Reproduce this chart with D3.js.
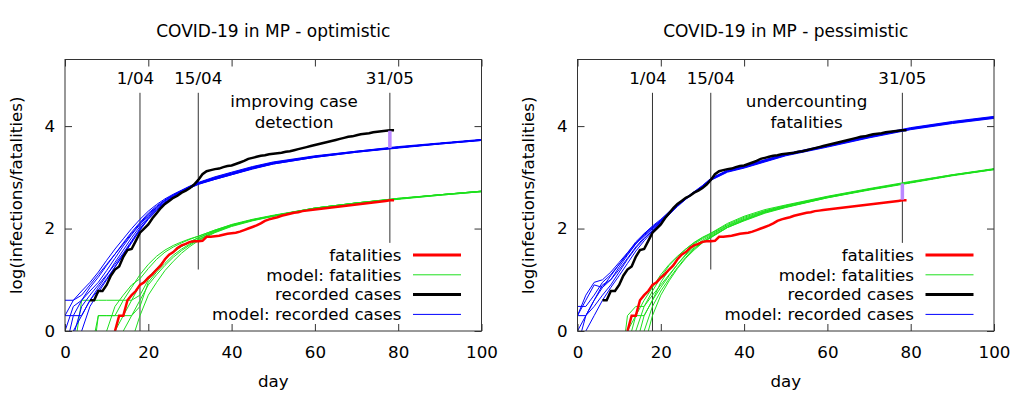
<!DOCTYPE html>
<html>
<head>
<meta charset="utf-8">
<script src="https://cdn.jsdelivr.net/npm/d3@7"></script>
<style>
  body { margin: 0; background: #fff; }
  text { font-family: "DejaVu Sans", sans-serif; fill: #000; }
</style>
</head>
<body>
<svg id="chart" width="1024" height="394"></svg>
<script>
// recorded data (log10 counts), same in both panels
const casesDays = [6,7,8,9,10,11,12,13,14,15,16,17,18,19,20,21,22,23,24,25,26,27,28,29,30,31,32,33,34,35,36,37,38,39,40,41,42,43,44,45,46,47,48,49,50,51,52,53,54,55,56,57,58,59,60,61,62,63,64,65,66,67,68,69,70,71,72,73,74,75,76,77,78,79];
const casesVals = [0.6,0.6,0.78,0.78,0.9,1.08,1.2,1.26,1.45,1.58,1.6,1.76,1.92,2.0,2.08,2.2,2.3,2.4,2.48,2.54,2.6,2.64,2.7,2.74,2.79,2.86,2.95,3.06,3.12,3.14,3.16,3.17,3.2,3.22,3.23,3.26,3.29,3.32,3.36,3.38,3.4,3.42,3.43,3.45,3.46,3.47,3.48,3.5,3.51,3.53,3.55,3.57,3.59,3.61,3.63,3.65,3.67,3.69,3.71,3.73,3.75,3.77,3.79,3.8,3.82,3.84,3.85,3.86,3.88,3.89,3.9,3.91,3.92,3.92];

const deathDays = [12,13,14,15,16,17,18,19,20,21,22,23,24,25,26,27,28,29,30,31,32,33,34,35,36,37,38,39,40,41,42,43,44,45,46,47,48,49,50,51,52,53,54,55,56,57,58,59,60,61,62,63,64,65,66,67,68,69,70,71,72,73,74,75,76,77,78,79];
const deathVals = [0,0.3,0.3,0.6,0.7,0.78,0.9,0.95,1.04,1.11,1.2,1.28,1.4,1.49,1.54,1.62,1.67,1.7,1.74,1.75,1.75,1.76,1.84,1.84,1.85,1.86,1.88,1.9,1.91,1.92,1.94,1.97,2.0,2.03,2.06,2.1,2.15,2.18,2.2,2.22,2.25,2.27,2.29,2.31,2.32,2.34,2.35,2.36,2.37,2.38,2.39,2.4,2.41,2.42,2.43,2.44,2.45,2.46,2.47,2.48,2.49,2.5,2.51,2.52,2.53,2.54,2.55,2.55];

// model runs, sampled on these days
const modelDays = [0,2,4,6,8,10,12,14,16,18,20,22,24,26,28,30,32,36,40,45,50,60,70,80,90,100];

const optCasesRuns = [
  [0.3,0.6,0.78,0.95,1.15,1.38,1.6,1.8,2.0,2.18,2.34,2.47,2.58,2.67,2.75,2.83,2.9,3.01,3.1,3.21,3.3,3.42,3.51,3.6,3.67,3.74],
  [0.3,0.3,0.6,0.85,1.05,1.28,1.5,1.72,1.93,2.12,2.3,2.44,2.56,2.66,2.74,2.82,2.89,2.99,3.08,3.19,3.28,3.41,3.5,3.59,3.66,3.73],
  [0,0.48,0.6,0.78,0.95,1.18,1.42,1.66,1.88,2.08,2.26,2.41,2.54,2.64,2.73,2.81,2.88,2.98,3.07,3.19,3.28,3.4,3.5,3.58,3.66,3.73],
  [-0.3,0,0.3,0.6,0.85,1.08,1.34,1.58,1.82,2.04,2.23,2.39,2.52,2.63,2.72,2.8,2.87,2.97,3.06,3.17,3.27,3.4,3.5,3.58,3.66,3.73],
  [-0.5,-0.1,0.48,0.7,0.9,1.1,1.3,1.52,1.76,2.0,2.2,2.36,2.5,2.61,2.71,2.79,2.87,2.96,3.05,3.17,3.26,3.39,3.49,3.58,3.65,3.72],
  [-0.6,-0.3,0,0.48,0.75,1.0,1.25,1.5,1.74,1.97,2.18,2.35,2.49,2.6,2.7,2.79,2.86,2.96,3.05,3.16,3.26,3.39,3.49,3.57,3.65,3.72],
  [0.6,0.6,0.7,0.9,1.1,1.3,1.5,1.7,1.9,2.1,2.28,2.42,2.55,2.65,2.74,2.82,2.89,3.0,3.09,3.2,3.29,3.41,3.51,3.59,3.66,3.73],
  [-0.4,0.3,0.3,0.6,0.8,1.02,1.25,1.48,1.72,1.98,2.2,2.37,2.51,2.62,2.72,2.8,2.88,2.98,3.07,3.18,3.28,3.4,3.5,3.58,3.66,3.73]
];
const optDeathRuns = [
  [-1,-0.5,0.6,0.6,0.6,0.6,0.6,0.6,0.6,0.7,1.0,1.2,1.4,1.55,1.65,1.74,1.82,1.96,2.07,2.17,2.25,2.4,2.5,2.58,2.66,2.73],
  [-1,-1,-1,-0.5,0.3,0.3,0.3,0.6,0.85,1.1,1.3,1.46,1.58,1.67,1.74,1.8,1.85,1.97,2.08,2.18,2.26,2.4,2.5,2.59,2.66,2.73],
  [-1,-1,-1,-1,-0.5,0,0.48,0.7,0.9,1.02,1.22,1.4,1.54,1.64,1.72,1.79,1.85,1.97,2.07,2.17,2.25,2.4,2.5,2.59,2.66,2.73],
  [-1,-1,-1,-1,-1,-0.5,0,0.3,0.6,0.9,1.05,1.22,1.4,1.54,1.65,1.74,1.82,1.95,2.06,2.16,2.25,2.39,2.5,2.58,2.66,2.72],
  [-1,-1,-1,-1,-1,-1,-0.5,0,0.3,0.6,0.9,1.1,1.28,1.44,1.57,1.68,1.78,1.93,2.05,2.16,2.24,2.39,2.49,2.58,2.65,2.72],
  [-1,-1,-1,-1,-1,-1,-1,-0.5,-0.2,0.3,0.7,0.95,1.18,1.36,1.52,1.65,1.76,1.92,2.04,2.15,2.24,2.38,2.49,2.57,2.65,2.72],
  [-1,-1,-1,-1,0.3,0.3,0.3,0.3,0.3,0.48,0.95,1.15,1.32,1.48,1.6,1.7,1.79,1.94,2.06,2.17,2.25,2.4,2.5,2.58,2.66,2.73]
];

const pesCasesRuns = [
  [0.3,0.3,0.6,0.85,1.08,1.3,1.5,1.7,1.86,2.0,2.14,2.3,2.45,2.58,2.7,2.82,2.96,3.12,3.2,3.32,3.44,3.61,3.79,3.95,4.07,4.17],
  [0.3,0.7,0.95,1.0,1.15,1.34,1.53,1.72,1.88,2.02,2.16,2.32,2.47,2.6,2.71,2.83,2.97,3.13,3.22,3.34,3.45,3.62,3.8,3.96,4.08,4.18],
  [0,0.3,0.48,0.7,0.9,1.15,1.4,1.62,1.8,1.96,2.12,2.28,2.44,2.58,2.7,2.82,2.95,3.11,3.19,3.31,3.43,3.6,3.78,3.94,4.06,4.16],
  [-0.3,0.3,0.6,0.9,1.0,1.2,1.42,1.64,1.83,1.99,2.14,2.3,2.45,2.58,2.7,2.82,2.96,3.12,3.2,3.32,3.44,3.61,3.79,3.95,4.07,4.17],
  [0.3,0.6,0.9,0.85,1.0,1.25,1.48,1.7,1.9,2.05,2.18,2.33,2.47,2.6,2.72,2.84,2.98,3.14,3.22,3.34,3.46,3.63,3.81,3.97,4.09,4.19],
  [-0.5,0,0.3,0.6,0.85,1.08,1.32,1.56,1.76,1.94,2.1,2.27,2.43,2.57,2.69,2.81,2.94,3.1,3.18,3.3,3.42,3.59,3.77,3.93,4.05,4.15],
  [0.48,0.48,0.7,0.95,1.1,1.3,1.52,1.74,1.9,2.03,2.16,2.31,2.46,2.59,2.71,2.83,2.97,3.12,3.21,3.33,3.44,3.61,3.79,3.95,4.07,4.17]
];
const pesDeathRuns = [
  [-1,-1,-1,-1,-1,-1,0.3,0.48,0.48,0.78,1.05,1.28,1.45,1.6,1.72,1.82,1.9,2.08,2.22,2.35,2.45,2.62,2.77,2.91,3.05,3.16],
  [-1,-1,-1,-1,-1,-1,-0.3,0.3,0.3,0.6,0.95,1.2,1.4,1.56,1.7,1.8,1.88,2.06,2.2,2.34,2.44,2.62,2.77,2.9,3.04,3.16],
  [-1,-1,-1,-1,-1,-1,-1,0,0.48,0.7,0.9,1.1,1.3,1.48,1.62,1.74,1.84,2.03,2.17,2.32,2.42,2.61,2.76,2.9,3.04,3.16],
  [-1,-1,-1,-1,-1,-1,-1,-0.3,0.3,0.6,0.85,1.08,1.3,1.5,1.65,1.77,1.86,2.05,2.18,2.33,2.43,2.61,2.76,2.9,3.04,3.16],
  [-1,-1,-1,-1,-1,-1,-1,-0.5,0,0.48,0.78,1.02,1.24,1.44,1.6,1.73,1.83,2.02,2.16,2.31,2.42,2.6,2.76,2.9,3.04,3.15],
  [-1,-1,-1,-1,-1,-1,-1,-1,-0.3,0.3,0.7,0.98,1.22,1.42,1.58,1.72,1.82,2.02,2.15,2.3,2.41,2.6,2.75,2.89,3.03,3.15],
  [-1,-1,-1,-1,-1,-1,0,0.3,0.6,0.85,1.1,1.3,1.46,1.6,1.73,1.83,1.91,2.1,2.24,2.37,2.46,2.63,2.78,2.92,3.05,3.17]
];

// date markers
const markerDays = [18, 32, 78];
const markerLabels = ["1/04", "15/04", "31/05"];
const markerLabelDays = [16.9, 32, 78];
const markerBottoms = [0, 1.2, 1.72];
const markerTop = 4.65;
const markerLabelY = 4.93;

const gapDay = 78;
const optGap = [3.91, 3.57];
const pesGap = [2.88, 2.56];

const titles = ["COVID-19 in MP - optimistic", "COVID-19 in MP - pessimistic"];
const notes = [["improving case", "detection"], ["undercounting", "fatalities"]];
const noteDay = 55;
const noteY = [4.49, 4.08];

const xTicks = [0, 20, 40, 60, 80, 100];
const yTicks = [0, 2, 4];

const legendLabels = ["fatalities", "model: fatalities", "recorded cases", "model: recorded cases"];

const colRed = "#ff0000", colGreen = "#1ee01e", colBlack = "#000000", colBlue = "#0000ff", colGap = "#bb88ff";
const fs = "16.7px";

var svg = d3.select("#chart");

var panels = [
  {offset: 0, cases: optCasesRuns, deaths: optDeathRuns, gap: optGap},
  {offset: 512.5, cases: pesCasesRuns, deaths: pesDeathRuns, gap: pesGap}
];

panels.forEach(function(p, i) {
  var g = svg.append("g").attr("transform", `translate(${p.offset},0)`);

  var x = d3.scaleLinear().domain([0, 100]).range([65, 481.5]);
  var y = d3.scaleLinear().domain([0, 5.3]).range([331, 59.5]);

  g.append("clipPath").attr("id", "clip" + i)
    .append("rect")
    .attr("x", x(0)).attr("y", y(5.3))
    .attr("width", x(100) - x(0)).attr("height", y(0) - y(5.3));

  var line = d3.line().x(d => x(d[0])).y(d => y(d[1]));
  var plot = g.append("g").attr("clip-path", `url(#clip${i})`);

  // date markers
  markerDays.forEach(function(d, k) {
    plot.append("line")
      .attr("x1", x(d)).attr("x2", x(d))
      .attr("y1", y(markerTop)).attr("y2", y(markerBottoms[k]))
      .attr("stroke", "#333").attr("stroke-width", 1);
  });

  p.deaths.forEach(function(run) {
    plot.append("path")
      .attr("d", line(modelDays.map((d, j) => [d, run[j]])))
      .attr("fill", "none").attr("stroke", colGreen).attr("stroke-width", 1);
  });
  p.cases.forEach(function(run) {
    plot.append("path")
      .attr("d", line(modelDays.map((d, j) => [d, run[j]])))
      .attr("fill", "none").attr("stroke", colBlue).attr("stroke-width", 1);
  });

  plot.append("path")
    .attr("d", line(deathDays.map((d, j) => [d, deathVals[j]])))
    .attr("fill", "none").attr("stroke", colRed).attr("stroke-width", 2.5);
  plot.append("path")
    .attr("d", line(casesDays.map((d, j) => [d, casesVals[j]])))
    .attr("fill", "none").attr("stroke", colBlack).attr("stroke-width", 2.5);

  plot.append("line")
    .attr("x1", x(gapDay)).attr("x2", x(gapDay))
    .attr("y1", y(p.gap[0])).attr("y2", y(p.gap[1]))
    .attr("stroke", colGap).attr("stroke-width", 3.5);

  // marker labels and note
  markerLabels.forEach(function(t, k) {
    g.append("text")
      .attr("x", x(markerLabelDays[k])).attr("y", y(markerLabelY))
      .attr("dy", "0.35em").attr("text-anchor", "middle")
      .attr("font-size", fs).text(t);
  });
  notes[i].forEach(function(t, k) {
    g.append("text")
      .attr("x", x(noteDay)).attr("y", y(noteY[k]))
      .attr("dy", "0.35em").attr("text-anchor", "middle")
      .attr("font-size", fs).text(t);
  });

  // axes, ticks inside and mirrored
  g.append("g").attr("transform", `translate(0,${y(0)})`)
    .call(d3.axisBottom(x).tickValues(xTicks).tickSizeInner(-7).tickSizeOuter(0).tickPadding(15));
  g.append("g").attr("transform", `translate(0,${y(5.3)})`)
    .call(d3.axisTop(x).tickValues(xTicks).tickSizeInner(-7).tickSizeOuter(0).tickFormat(""));
  g.append("g").attr("transform", `translate(${x(0)},0)`)
    .call(d3.axisLeft(y).tickValues(yTicks).tickSizeInner(-7).tickSizeOuter(0).tickPadding(10).tickFormat(d3.format("d")));
  g.append("g").attr("transform", `translate(${x(100)},0)`)
    .call(d3.axisRight(y).tickValues(yTicks).tickSizeInner(-7).tickSizeOuter(0).tickFormat(""));
  g.selectAll(".domain").remove();
  g.selectAll(".tick line").attr("stroke", "#333");
  g.selectAll(".tick text")
    .attr("font-family", "DejaVu Sans, sans-serif")
    .attr("font-size", fs)
    .attr("fill", "#000");

  g.append("rect")
    .attr("x", x(0)).attr("y", y(5.3))
    .attr("width", x(100) - x(0)).attr("height", y(0) - y(5.3))
    .attr("fill", "none").attr("stroke", "#333").attr("stroke-width", 1);

  // legend
  var legendColors = [colRed, colGreen, colBlack, colBlue];
  var legendWidths = [3, 1, 3, 1];
  legendLabels.forEach(function(t, k) {
    var ly = 255 + k * 19.8;
    g.append("text")
      .attr("x", 401.5).attr("y", ly).attr("dy", "0.35em")
      .attr("text-anchor", "end").attr("font-size", fs).text(t);
    g.append("line")
      .attr("x1", 413).attr("x2", 461).attr("y1", ly).attr("y2", ly)
      .attr("stroke", legendColors[k]).attr("stroke-width", legendWidths[k]);
  });

  // title and axis labels
  g.append("text")
    .attr("x", (x(0) + x(100)) / 2).attr("y", 31).attr("dy", "0.35em")
    .attr("text-anchor", "middle").attr("font-size", "17px")
    .text(titles[i]);
  g.append("text")
    .attr("x", (x(0) + x(100)) / 2).attr("y", 381).attr("dy", "0.35em")
    .attr("text-anchor", "middle").attr("font-size", fs)
    .text("day");
  g.append("text")
    .attr("transform", `translate(16,${(y(0) + y(5.3)) / 2}) rotate(-90)`)
    .attr("dy", "0.35em")
    .attr("text-anchor", "middle").attr("font-size", fs)
    .text("log(infections/fatalities)");
});
</script>
</body>
</html>
